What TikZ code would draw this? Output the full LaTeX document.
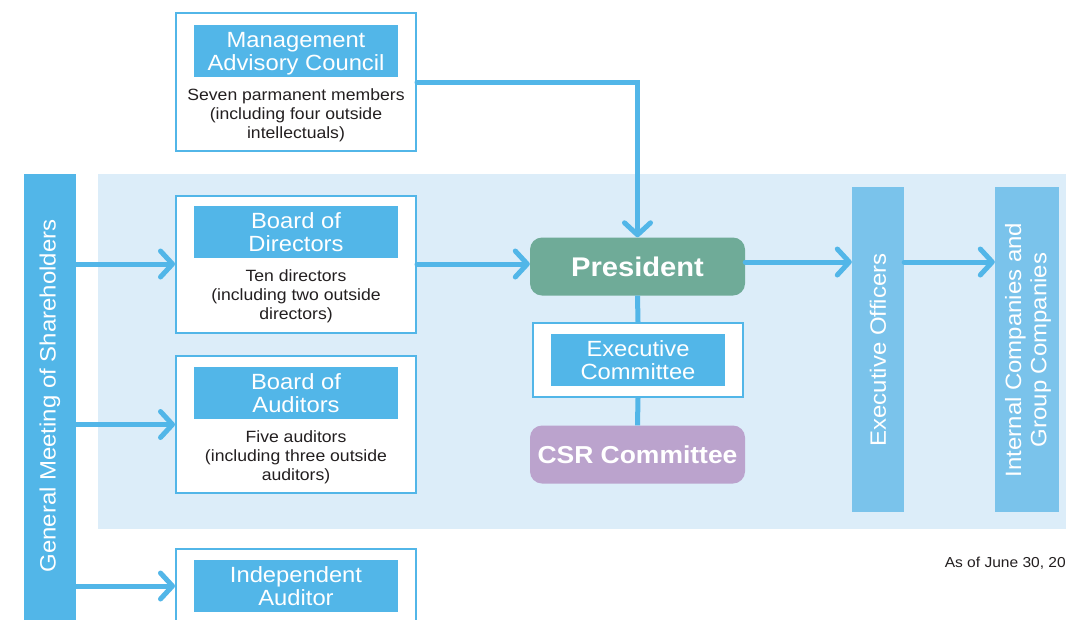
\documentclass[tikz,border=0pt]{standalone}
\usepackage{fontspec}
\setmainfont{Liberation Sans}[FakeStretch=1.08]
\usetikzlibrary{arrows.meta}
\definecolor{ablue}{HTML}{52B6E8}
\definecolor{lblue}{HTML}{7AC3EB}
\definecolor{bgblue}{HTML}{DCEDF9}
\definecolor{pgreen}{HTML}{6FAB98}
\definecolor{cpurple}{HTML}{BBA3CD}
\definecolor{txt}{HTML}{231F20}
\tikzset{
  arr/.style={line width=5pt, draw=ablue, line cap=round, -{Straight Barb[length=12pt,width=26pt,line cap=round,line join=round]}},
  link/.style={line width=5pt, draw=ablue},
  outerbox/.style={draw=ablue, line width=2pt, fill=white, minimum width=240pt, minimum height=137pt, inner sep=0pt},
  header/.style={fill=ablue, text=white, minimum width=204pt, minimum height=52pt, inner sep=0pt, align=center, text height=39.5pt, text depth=0pt, font=\fontsize{22}{23.5}\selectfont},
  body/.style={text=txt, align=center, font=\fontsize{16.3}{19}\selectfont, inner sep=0pt},
  column/.style={fill=#1, text=white, inner sep=0pt, align=center},
  vtext/.style={rotate=90, text=white, align=center, inner sep=0pt, font=\fontsize{22.2}{25}\selectfont},
  round/.style={fill=#1, text=white, rounded corners=12pt, minimum width=215pt, minimum height=58pt, inner sep=0pt},
}
\begin{document}
\begin{tikzpicture}[x=1pt,y=-1pt]
\useasboundingbox (0,0) rectangle (1066,619);
\clip (0,0) rectangle (1066,619);
\fill[white] (0,0) rectangle (1066,619);
% background panel
\fill[bgblue] (98,174) rectangle (1070,529);
% columns
\node[column=ablue, minimum width=52pt, minimum height=460pt, anchor=north west] (gm) at (24,174) {};
\node[vtext] (gmt) at (50,396) {General Meeting of Shareholders};
\node[column=lblue, minimum width=52pt, minimum height=325pt] (eo) at (878,349.5) {};
\node[vtext] (eot) at (878,350) {Executive Officers};
\node[column=lblue, minimum width=64pt, minimum height=325pt] (ic) at (1027,349.5) {};
\node[vtext] (ict) at (1028,350) {Internal Companies and\\Group Companies};
% Management Advisory Council
\node[outerbox, minimum height=138pt] (mac) at (296,82) {};
\node[header] (mach) at (296,51) {Management\\Advisory Council};
\node[body] (macb) at (296,115.5) {Seven parmanent members\\(including four outside\\intellectuals)};
% Board of Directors
\node[outerbox] (bod) at (296,264) {};
\node[header] (bodh) at (296,232) {Board of\\Directors};
\node[body] (bodb) at (296,296.5) {Ten directors\\(including two outside\\directors)};
% Board of Auditors
\node[outerbox] (boa) at (296,424.5) {};
\node[header] (boah) at (296,393) {Board of\\Auditors};
\node[body] (boab) at (296,457.5) {Five auditors\\(including three outside\\auditors)};
% Independent Auditor
\node[outerbox] (ia) at (296,617.5) {};
\node[header] (iah) at (296,586) {Independent\\Auditor};
% President etc
\node[round=pgreen, font=\fontsize{27}{30}\selectfont\bfseries] (pres) at (637.5,266.5) {President};
\node[draw=ablue, line width=2pt, fill=white, minimum width=210pt, minimum height=74pt, inner sep=0pt] (ec) at (638,360) {};
\node[header, minimum width=174pt, minimum height=52pt] (ech) at (638,360) {Executive\\Committee};
\node[round=cpurple, font=\fontsize{24.5}{28}\selectfont\bfseries] (csr) at (637.5,454.5) {CSR Committee};
% connectors
\draw[link] (pres.south) -- (ec.north);
\draw[link] (ec.south) -- (csr.north);
\draw[arr] (mac.east) -| (pres.north);
\draw[arr] (gm.east |- bod.west) -- (bod.west);
\draw[arr] (gm.east |- boa.west) -- (boa.west);
\draw[arr] (gm.east |- iah.west) -- (iah.west -| ia.west);
\draw[arr] (bod.east) -- (bod.east -| pres.west);
\draw[arr] (pres.east |- 0,262) -- (eo.west |- 0,262);
\draw[arr] (eo.east |- 0,262) -- (ic.west |- 0,262);
% note
\node[anchor=base east, text=txt, font=\fontsize{14.4}{16}\selectfont, inner sep=0pt] (note) at (1066,567) {As of June 30, 20};
\end{tikzpicture}
\end{document}
